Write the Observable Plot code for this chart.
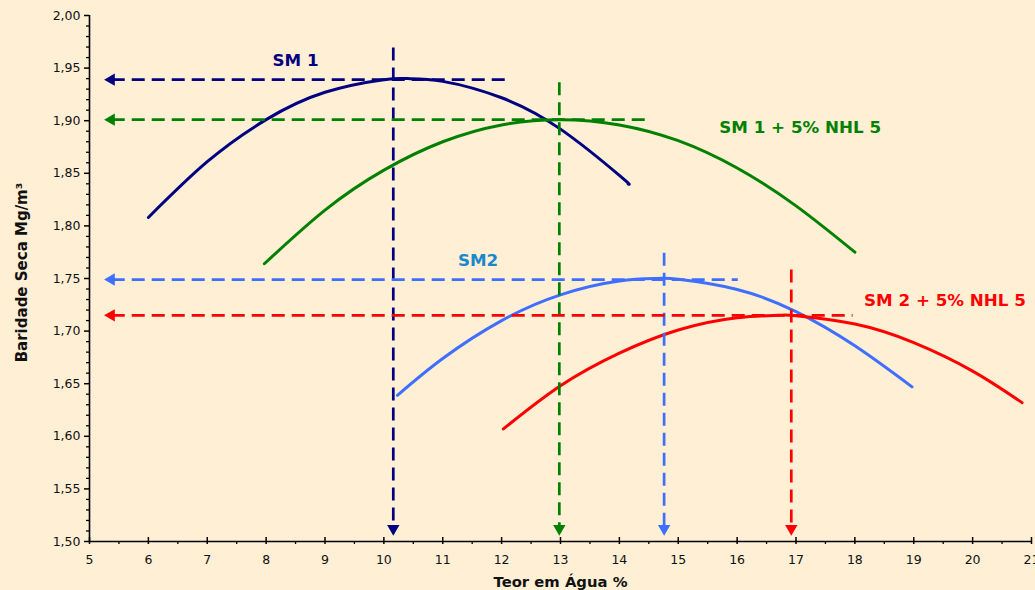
<!DOCTYPE html>
<html><head><meta charset="utf-8">
<script src="https://cdn.jsdelivr.net/npm/d3@7"></script>
<script src="https://cdn.jsdelivr.net/npm/@observablehq/plot@0.6"></script>
<style>
html,body{margin:0;padding:0;background:#FFEFD5;overflow:hidden}
</style></head><body><div id="chart"></div>
<script>
// ---- data ----
const seriesNames = ["SM 1", "SM 1 + 5% NHL 5", "SM2", "SM 2 + 5% NHL 5"];
const seriesColors = ["#000080", "#008000", "#3F6FFF", "#FF0000"];
const labelColors = ["#000080", "#008000", "#1A88CC", "#FF0000"];

const sm1X = [6, 7, 8, 9, 10, 10.4, 11, 12, 13, 14, 14.15];
const sm1Y = [1.808, 1.861, 1.901, 1.927, 1.939, 1.940, 1.9374, 1.9218, 1.892, 1.848, 1.840];
const sm1nhlX = [7.97, 9, 10, 11, 12, 13, 14, 15, 16, 17, 18];
const sm1nhlY = [1.764, 1.815, 1.853, 1.880, 1.896, 1.901, 1.896, 1.881, 1.855, 1.819, 1.775];
const sm2X = [10.23, 11, 12, 13, 14, 14.65, 15, 16, 17, 18, 18.97];
const sm2Y = [1.639, 1.674, 1.710, 1.7345, 1.7476, 1.750, 1.7493, 1.7396, 1.7185, 1.686, 1.647];
const sm2nhlX = [12.03, 13, 14, 15, 16, 16.7, 17, 18, 19, 20, 20.84];
const sm2nhlY = [1.607, 1.648, 1.679, 1.701, 1.7126, 1.715, 1.7146, 1.7067, 1.689, 1.662, 1.632];

// optimum water content / max dry density guides
const optX = [10.16, 12.98, 14.76, 16.92];
const optY = [1.939, 1.901, 1.749, 1.715];
const guideXStart = [5.25, 5.25, 5.25, 5.25];
const guideXEnd = [12.18, 14.47, 16.02, 17.97];
const guideYTop = [1.969, 1.936, 1.774, 1.758];
const guideYBottom = [1.5, 1.5, 1.5, 1.5];

// series label anchors
const labelX = [8.5, 17.07, 11.6, 19.53];
const labelY = [1.957, 1.893, 1.767, 1.729];

const xTicks = [5, 6, 7, 8, 9, 10, 11, 12, 13, 14, 15, 16, 17, 18, 19, 20, 21];
const xMinorTicks = [5.5, 6.5, 7.5, 8.5, 9.5, 10.5, 11.5, 12.5, 13.5, 14.5, 15.5, 16.5, 17.5, 18.5, 19.5, 20.5];
const yTicks = [1.50, 1.55, 1.60, 1.65, 1.70, 1.75, 1.80, 1.85, 1.90, 1.95, 2.00];
const yMinorTicks = d3.range(150, 201).filter(v => v % 5 !== 0).map(v => v / 100);

const xTitle = "Teor em Água %";
const yTitle = "Baridade Seca Mg/m³";

// ---- build tables ----
const curveXs = [sm1X, sm1nhlX, sm2X, sm2nhlX];
const curveYs = [sm1Y, sm1nhlY, sm2Y, sm2nhlY];
const guides = seriesNames.map((s, i) => ({
  s, i, x: optX[i], y: optY[i], x1: guideXStart[i], x2: guideXEnd[i],
  yTop: guideYTop[i], yBottom: guideYBottom[i]
}));
const labels = seriesNames.map((s, i) => ({s, x: labelX[i], y: labelY[i], c: labelColors[i]}));

const marks = [];
// axes lines and ticks
marks.push(Plot.axisY(yMinorTicks, {tickSize: 3, tickFormat: () => "", label: null, strokeWidth: 1.3}));
marks.push(Plot.axisY(yTicks, {tickSize: 5, tickPadding: 4, tickFormat: d => d.toFixed(2).replace(".", ","), label: null, strokeWidth: 1.5, fontSize: 12.5, fill: "#111"}));
marks.push(Plot.axisX(xMinorTicks, {tickSize: 3, tickFormat: () => "", label: null, strokeWidth: 1.3}));
marks.push(Plot.axisX(xTicks, {tickSize: 7, dy: -4, tickFormat: () => "", label: null, strokeWidth: 1.5}));
marks.push(Plot.axisX(xTicks, {tickSize: 0, tickPadding: 14, label: null, fontSize: 12.5, fill: "#111"}));
marks.push(Plot.ruleX([5], {stroke: "#000", strokeWidth: 1.6}));
marks.push(Plot.ruleY([1.5], {stroke: "#000", strokeWidth: 1.6}));

// curves
seriesNames.forEach((s, i) => {
  const rows = curveXs[i].map((x, j) => ({x, y: curveYs[i][j]}));
  marks.push(Plot.line(rows, {x: "x", y: "y", curve: "natural", stroke: seriesColors[i], strokeWidth: 3}));
});

// guides
guides.forEach(g => {
  const c = seriesColors[g.i];
  marks.push(Plot.ruleY([g], {y: "y", x1: "x1", x2: "x2", insetLeft: 8, stroke: c, strokeWidth: 2.7, strokeDasharray: "13,7"}));
  marks.push(Plot.ruleX([g], {x: "x", y1: "yTop", y2: "yBottom", insetBottom: 13, stroke: c, strokeWidth: 2.7, strokeDasharray: "13,7"}));
  marks.push(Plot.dot([g], {x: "x1", y: "y", symbol: "triangle", r: 4.6, fill: c, stroke: "none", rotate: -90, dx: 7}));
  marks.push(Plot.dot([g], {x: "x", y: "yBottom", symbol: "triangle", r: 4.6, fill: c, stroke: "none", rotate: 180, dy: -13}));
});

// series labels
marks.push(Plot.text(labels, {x: "x", y: "y", text: "s", fill: "c", fontSize: 16.7, fontWeight: "bold", textAnchor: "middle", lineAnchor: "middle"}));

// axis titles
marks.push(Plot.text([xTitle], {frameAnchor: "bottom", dy: 41, fontSize: 14.8, fontWeight: "bold", fill: "#111", lineAnchor: "middle"}));
marks.push(Plot.text([yTitle], {frameAnchor: "left", dx: -67, dy: -6, rotate: -90, fontSize: 15, fontWeight: "bold", fill: "#111", textAnchor: "middle", lineAnchor: "middle"}));

const chart = Plot.plot({
  width: 1035,
  height: 590,
  marginLeft: 89,
  marginRight: 4,
  marginTop: 15,
  marginBottom: 49,
  x: {domain: [5, 21]},
  y: {domain: [1.5, 2.0]},
  style: {fontFamily: "DejaVu Sans", fontSize: "12px", background: "#FFEFD5", color: "#000"},
  marks
});
document.getElementById("chart").appendChild(chart);
</script>
</body></html>
